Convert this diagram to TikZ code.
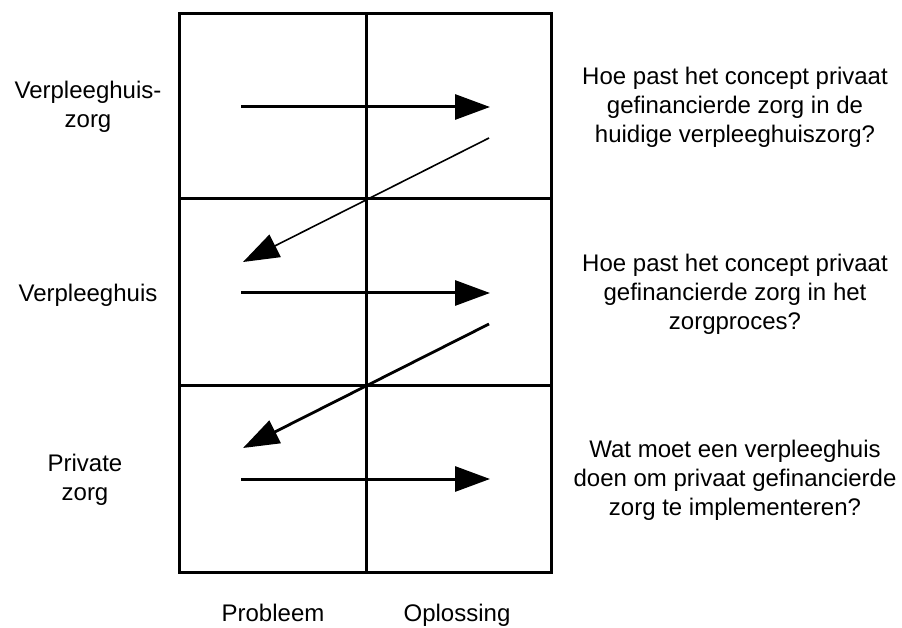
\documentclass[tikz,border=0pt]{standalone}
\usepackage{fontspec}
\setmainfont{Liberation Sans}
\usetikzlibrary{arrows.meta}
\begin{document}
\begin{tikzpicture}[x=1pt,y=-1pt,
  lbl/.style={align=center,font=\fontsize{24}{29}\selectfont,text=black,inner sep=0pt},
  grid/.style={line width=3pt},
  harrow/.style={line width=3pt,-{Triangle[length=35pt,width=25pt]}},
  darrow/.style={-{Triangle[length=36pt,width=25pt]}}]
\useasboundingbox (0,0) rectangle (902,628);
\draw[grid] (179,14) rectangle (551,572);
\draw[grid] (366,14) -- (366,572);
\draw[grid] (179,199) -- (551,199);
\draw[grid] (179,385) -- (551,385);
% arrows
\coordinate (a1s) at (241,107); \coordinate (a1e) at (490,107);
\coordinate (a2s) at (241,293); \coordinate (a2e) at (490,293);
\coordinate (a3s) at (241,479); \coordinate (a3e) at (490,479);
\coordinate (d1s) at (489,138); \coordinate (d1e) at (243,262);
\coordinate (d2s) at (489,324); \coordinate (d2e) at (243,448);
\draw[harrow] (a1s) -- (a1e);
\draw[harrow] (a2s) -- (a2e);
\draw[harrow] (a3s) -- (a3e);
\draw[darrow,line width=1.6pt] (d1s) -- (d1e);
\draw[darrow,line width=2.8pt] (d2s) -- (d2e);
% left labels
\node[lbl] (l1) at (88,107) {Verpleeghuis-\\zorg};
\node[lbl] (l2) at (88,295) {Verpleeghuis};
\node[lbl] (l3) at (85,480) {Private\\zorg};
% right labels
\node[lbl] (r1) at (735,107) {Hoe past het concept privaat\\gefinancierde zorg in de\\huidige verpleeghuiszorg?};
\node[lbl] (r2) at (735,294) {Hoe past het concept privaat\\gefinancierde zorg in het\\zorgproces?};
\node[lbl] (r3) at (735,480) {Wat moet een verpleeghuis\\doen om privaat gefinancierde\\zorg te implementeren?};
% bottom
\node[lbl,anchor=base] (b1) at (273,621) {Probleem};
\node[lbl,anchor=base] (b2) at (457,621) {Oplossing};
\end{tikzpicture}
\end{document}
